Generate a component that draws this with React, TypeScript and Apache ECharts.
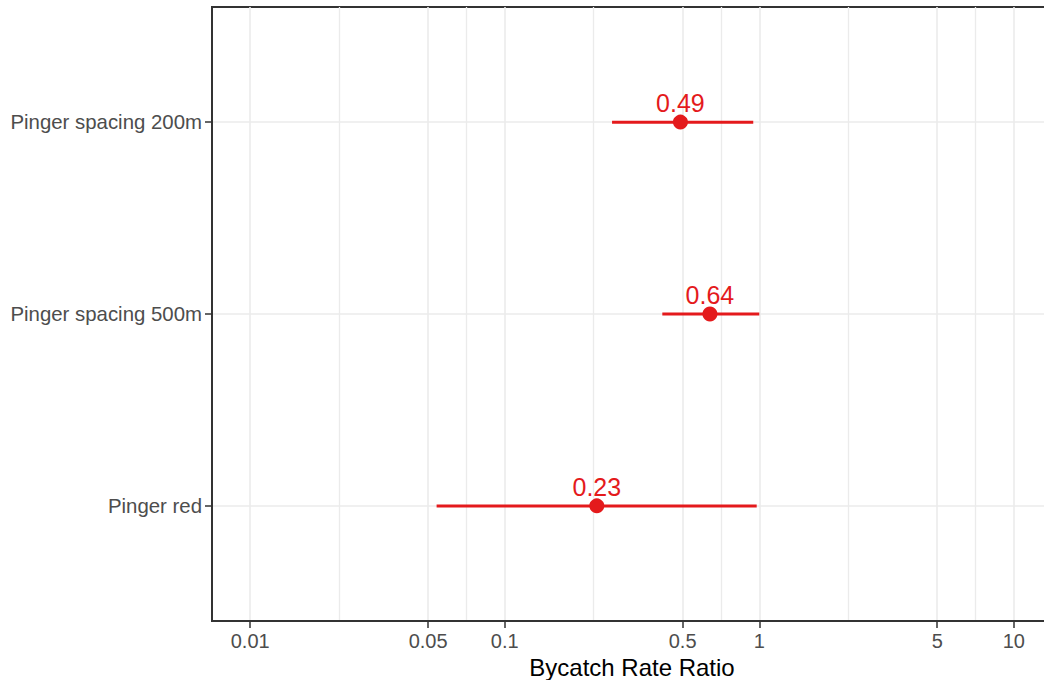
import React, { useEffect, useRef } from "react";
import * as echarts from "echarts";

// Rows, bottom to top
const categories = ["Pinger red", "Pinger spacing 500m", "Pinger spacing 200m"];
// Point estimates and 95% interval bounds of the bycatch rate ratio
const estimates = [0.23, 0.64, 0.49];
const lower = [0.054, 0.416, 0.264];
const upper = [0.977, 1.0, 0.947];

// Major breaks of the log-scaled x axis
const xBreaks = [0.01, 0.05, 0.1, 0.5, 1, 5, 10];
const xBreakLabels = ["0.01", "0.05", "0.1", "0.5", "1", "5", "10"];

const RED = "#E41A1C";
const GRID = "#EBEBEB";
const DARK = "#333333";
const TICK_TEXT = "#4D4D4D";
const FONT = "'Liberation Sans', Arial, sans-serif";

const log10 = (v: number) => Math.log10(v);

export default function App() {
  const ref = useRef<HTMLDivElement>(null);

  useEffect(() => {
    document.body.style.margin = "0";
    document.documentElement.style.overflow = "hidden";
    if (!ref.current) return;
    const chart = echarts.init(ref.current, null, { renderer: "svg" });

    const majorLog = xBreaks.map(log10);
    // minor breaks sit halfway between major breaks in log space
    const minorLog = majorLog.slice(1).map((v, i) => (v + majorLog[i]) / 2);
    // expand the 0.01..10 range by 5% on both sides
    const span = majorLog[majorLog.length - 1] - majorLog[0];
    const xMin = majorLog[0] - span * 0.05;
    const xMax = majorLog[majorLog.length - 1] + span * 0.05;

    const rowIdx = categories.map((_, i) => i + 1);

    const option: any = {
      animation: false,
      textStyle: { fontFamily: FONT },
      grid: {
        left: 212,
        top: 7,
        right: -8,
        bottom: 59,
        show: true,
        borderColor: DARK,
        borderWidth: 2,
        backgroundColor: "transparent",
        containLabel: false,
        outerBoundsMode: "none",
      },
      xAxis: [
        {
          type: "value",
          min: xMin,
          max: xMax,
          position: "bottom",
          name: "Bycatch Rate Ratio",
          nameLocation: "middle",
          nameGap: 23,
          nameTextStyle: { color: "#000", fontSize: 24, fontFamily: FONT },
          axisLine: { show: true, onZero: false, lineStyle: { color: DARK, width: 2 } },
          axisTick: {
            show: true,
            length: 7,
            customValues: majorLog,
            lineStyle: { color: DARK, width: 1.5 },
          },
          axisLabel: {
            customValues: majorLog,
            margin: 10,
            color: TICK_TEXT,
            fontSize: 20,
            fontFamily: FONT,
            formatter: (v: number) => {
              const i = majorLog.findIndex((t) => Math.abs(t - v) < 1e-6);
              return i >= 0 ? xBreakLabels[i] : "";
            },
          },
          splitLine: { show: true, lineStyle: { color: GRID, width: 1.6 } },
        },
        {
          type: "value",
          min: xMin,
          max: xMax,
          position: "bottom",
          axisLine: { show: false },
          axisTick: { show: false, customValues: minorLog },
          axisLabel: { show: false, customValues: minorLog },
          splitLine: { show: true, lineStyle: { color: GRID, width: 1.3 } },
        },
      ],
      yAxis: {
        type: "value",
        min: 0.4,
        max: categories.length + 0.6,
        axisLine: { show: true, onZero: false, lineStyle: { color: DARK, width: 2 } },
        axisTick: {
          show: true,
          length: 7,
          customValues: rowIdx,
          lineStyle: { color: DARK, width: 1.5 },
        },
        axisLabel: {
          customValues: rowIdx,
          margin: 10,
          color: TICK_TEXT,
          fontSize: 20.4,
          fontFamily: FONT,
          formatter: (v: number) => categories[Math.round(v) - 1] ?? "",
        },
        splitLine: { show: true, lineStyle: { color: GRID, width: 1.6 } },
      },
      series: [
        {
          type: "custom",
          xAxisIndex: 0,
          encode: { x: [0, 1], y: 2 },
          data: categories.map((_, i) => [log10(lower[i]), log10(upper[i]), i + 1]),
          renderItem: (_params: any, api: any) => {
            const y = api.value(2);
            const a = api.coord([api.value(0), y]);
            const b = api.coord([api.value(1), y]);
            return {
              type: "line",
              shape: { x1: a[0], y1: a[1], x2: b[0], y2: b[1] },
              style: { stroke: RED, lineWidth: 3 },
            };
          },
          z: 3,
        },
        {
          type: "scatter",
          xAxisIndex: 0,
          symbol: "circle",
          symbolSize: 15,
          itemStyle: { color: RED, opacity: 1 },
          data: categories.map((_, i) => [log10(estimates[i]), i + 1, estimates[i]]),
          label: {
            show: true,
            position: "top",
            distance: -1,
            color: RED,
            fontSize: 25,
            fontFamily: FONT,
            formatter: (p: any) => p.value[2].toFixed(2),
          },
          z: 4,
        },
      ],
    };

    chart.setOption(option);
    return () => chart.dispose();
  }, []);

  return <div ref={ref} style={{ width: 1044, height: 680, background: "#fff" }} />;
}
